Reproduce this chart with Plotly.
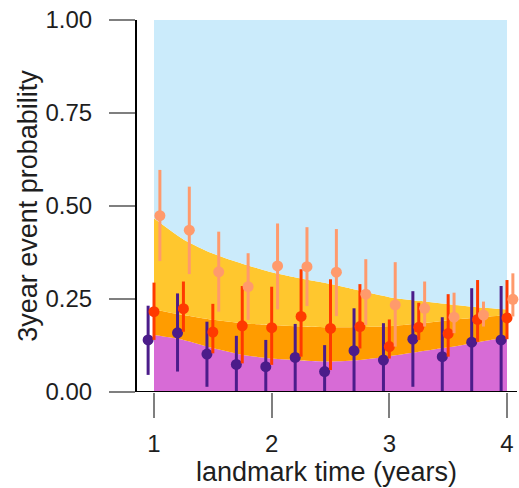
import plotly.graph_objects as go

# landmark times (years)
times = [1.0, 1.25, 1.5, 1.75, 2.0, 2.25, 2.5, 2.75, 3.0, 3.25, 3.5, 3.75, 4.0]

# band boundaries (cumulative probabilities)
band_lower = [0.153, 0.140, 0.118, 0.100, 0.090, 0.085, 0.082, 0.086, 0.096, 0.108, 0.120, 0.134, 0.148]
band_middle = [0.222, 0.207, 0.194, 0.185, 0.180, 0.176, 0.174, 0.175, 0.177, 0.184, 0.193, 0.200, 0.207]
band_upper = [0.467, 0.410, 0.372, 0.345, 0.322, 0.305, 0.290, 0.272, 0.255, 0.245, 0.236, 0.228, 0.222]
band_top = [1.0] * 13

# observed estimates with intervals
purple_est = [0.140, 0.159, 0.102, 0.074, 0.068, 0.093, 0.055, 0.111, 0.086, 0.142, 0.095, 0.134, 0.140]
purple_lo = [0.046, 0.055, 0.014, -0.02, -0.02, -0.02, -0.02, -0.02, -0.02, 0.014, -0.02, -0.02, -0.02]
purple_hi = [0.232, 0.265, 0.189, 0.151, 0.140, 0.183, 0.126, 0.225, 0.185, 0.271, 0.201, 0.279, 0.285]

red_est = [0.216, 0.224, 0.161, 0.178, 0.173, 0.203, 0.171, 0.176, 0.122, 0.174, 0.157, 0.195, 0.199]
red_lo = [0.140, 0.162, 0.104, 0.077, 0.073, 0.095, 0.059, 0.117, 0.090, 0.140, 0.095, 0.135, 0.142]
red_hi = [0.294, 0.297, 0.237, 0.285, 0.283, 0.330, 0.303, 0.290, 0.195, 0.240, 0.263, 0.301, 0.301]

salmon_est = [0.474, 0.435, 0.323, 0.283, 0.339, 0.337, 0.322, 0.263, 0.234, 0.225, 0.201, 0.207, 0.249]
salmon_lo = [0.352, 0.317, 0.216, 0.194, 0.222, 0.231, 0.204, 0.180, 0.122, 0.176, 0.158, 0.176, 0.203]
salmon_hi = [0.597, 0.552, 0.431, 0.373, 0.453, 0.443, 0.438, 0.357, 0.349, 0.297, 0.267, 0.243, 0.319]

dodge = 0.05

x_ticks = [1, 2, 3, 4]
y_ticks = [0, 0.25, 0.5, 0.75, 1.0]
y_tick_text = ["0.00", "0.25", "0.50", "0.75", "1.00"]

C_BLUE = "#cbebfb"
C_GOLD = "#ffc72e"
C_ORANGE = "#ff9c00"
C_ORCHID = "#d76bd6"
C_PURPLE = "#4b1c8a"
C_RED = "#ff3a00"
C_SALMON = "#ff9a6c"

fig = go.Figure()

bands = [(band_lower, C_ORCHID, "tozeroy"), (band_middle, C_ORANGE, "tonexty"),
         (band_upper, C_GOLD, "tonexty"), (band_top, C_BLUE, "tonexty")]
for yv, col, fill in bands:
    fig.add_trace(go.Scatter(x=times, y=yv, mode="lines", fill=fill, fillcolor=col,
                             line=dict(width=0, color=col, shape="spline", smoothing=0.6),
                             hoverinfo="skip", showlegend=False))

series = [(purple_est, purple_lo, purple_hi, C_PURPLE, -dodge),
          (red_est, red_lo, red_hi, C_RED, 0.0),
          (salmon_est, salmon_lo, salmon_hi, C_SALMON, dodge)]
for est, lo, hi, col, off in series:
    fig.add_trace(go.Scatter(
        x=[t + off for t in times], y=est, mode="markers",
        marker=dict(size=11, color=col),
        error_y=dict(type="data", symmetric=False,
                     array=[h - e for h, e in zip(hi, est)],
                     arrayminus=[e - l for e, l in zip(est, lo)],
                     color=col, thickness=3, width=0),
        showlegend=False, cliponaxis=False))

FAM = "Liberation Sans, Arial, sans-serif"
TXT = "#1e1e1e"

fig.update_layout(
    width=519, height=488,
    margin=dict(l=136, r=2, t=20, b=96),
    paper_bgcolor="white", plot_bgcolor="white",
    font=dict(family=FAM, size=22.5, color=TXT),
    xaxis=dict(range=[0.847, 4.085], tickvals=x_ticks, ticks="outside", ticklen=25,
               tickwidth=2, tickcolor="#7f7f7f", showgrid=False, zeroline=False,
               showline=False, tickfont=dict(size=24),
               title=dict(text="landmark time (years)", standoff=0),
               ticklabelstandoff=5),
    yaxis=dict(range=[0, 1], tickvals=y_ticks, ticktext=y_tick_text, ticks="outside",
               ticklen=26, tickwidth=2, tickcolor="#7f7f7f", showgrid=False,
               zeroline=False, showline=False, tickfont=dict(size=24),
               title=dict(text="3year event probability", standoff=0),
               ticklabelstandoff=12),
    shapes=[
        dict(type="line", xref="paper", yref="y", x0=0, x1=1, y0=0, y1=0,
             line=dict(color="black", width=2)),
        dict(type="line", xref="paper", yref="y", x0=0, x1=0, y0=0, y1=1,
             line=dict(color="black", width=2)),
    ],
)

fig.write_html("out.html")
